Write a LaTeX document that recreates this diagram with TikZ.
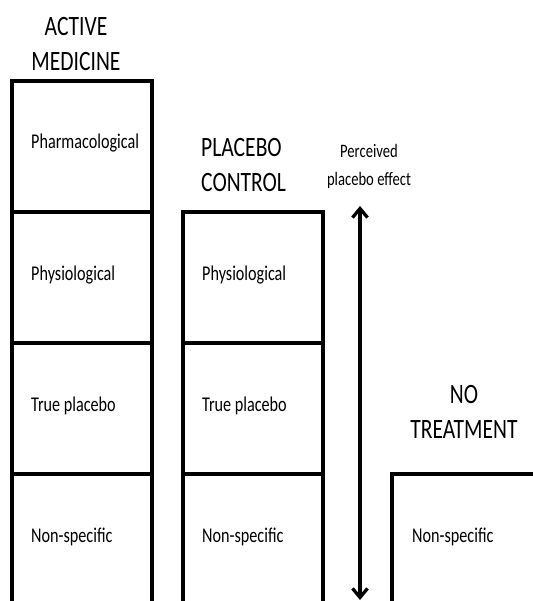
\documentclass[tikz,border=0pt]{standalone}
\usepackage{fontspec}
\setmainfont{Carlito}
\usepackage{graphicx}
\usetikzlibrary{positioning,arrows.meta}

\newcommand{\squish}[1]{\scalebox{0.77}[1]{#1}}

\tikzset{
  layer/.style={draw, line width=3.5pt, minimum width=140pt, minimum height=131pt,
    outer sep=0pt, inner sep=0pt},
  lbl/.style={inner sep=0pt, anchor=west, text height=0.7em, text depth=0.2em,
    font=\fontsize{21}{25}\selectfont},
  head/.style={inner sep=0pt, align=center, font=\fontsize{28}{35}\selectfont},
  note/.style={inner sep=0pt, align=center, font=\fontsize{19}{28}\selectfont},
}

\begin{document}
\begin{tikzpicture}[x=1pt,y=-1pt]
  \useasboundingbox (0,0) rectangle (532,601);

  % active medicine
  \node[layer, anchor=north west] (am1) at (12,81) {};
  \node[layer, below=0pt of am1] (am2) {};
  \node[layer, below=0pt of am2] (am3) {};
  \node[layer, below=0pt of am3] (am4) {};
  \node[lbl, right=19pt of am1.west] (amlbl1) {\squish{Pharmacological}};
  \node[lbl, right=19pt of am2.west] (amlbl2) {\squish{Physiological}};
  \node[lbl, right=19pt of am3.west] (amlbl3) {\squish{True placebo}};
  \node[lbl, right=19pt of am4.west] (amlbl4) {\squish{Non-specific}};
  \node[head] (amhead) at (76,44) {\squish{ACTIVE}\\\squish{MEDICINE}};

  % placebo control
  \node[layer, anchor=north west] (pc2) at (183,212) {};
  \node[layer, below=0pt of pc2] (pc3) {};
  \node[layer, below=0pt of pc3] (pc4) {};
  \node[lbl, right=19pt of pc2.west] (pclbl2) {\squish{Physiological}};
  \node[lbl, right=19pt of pc3.west] (pclbl3) {\squish{True placebo}};
  \node[lbl, right=19pt of pc4.west] (pclbl4) {\squish{Non-specific}};
  \node[head, align=left, anchor=west] (pchead) at (201,165) {\squish{PLACEBO}\\\squish{CONTROL}};

  % no treatment
  \node[layer, anchor=north west, minimum width=143pt] (nt4) at (392,474) {};
  \node[lbl, right=20pt of nt4.west] (ntlbl4) {\squish{Non-specific}};
  \node[head] (nthead) at (464,412) {\squish{NO}\\\squish{TREATMENT}};

  % perceived effect
  \node[note] (effect) at (369,166) {\squish{Perceived}\\\squish{placebo effect}};
  \coordinate (efftop) at (360,206);
  \coordinate (effbot) at (360,600);
  \draw[line width=3.3pt, {Straight Barb[length=9pt,width=15pt]}-{Straight Barb[length=9pt,width=15pt]}]
    (efftop) -- (effbot);
\end{tikzpicture}
\end{document}
